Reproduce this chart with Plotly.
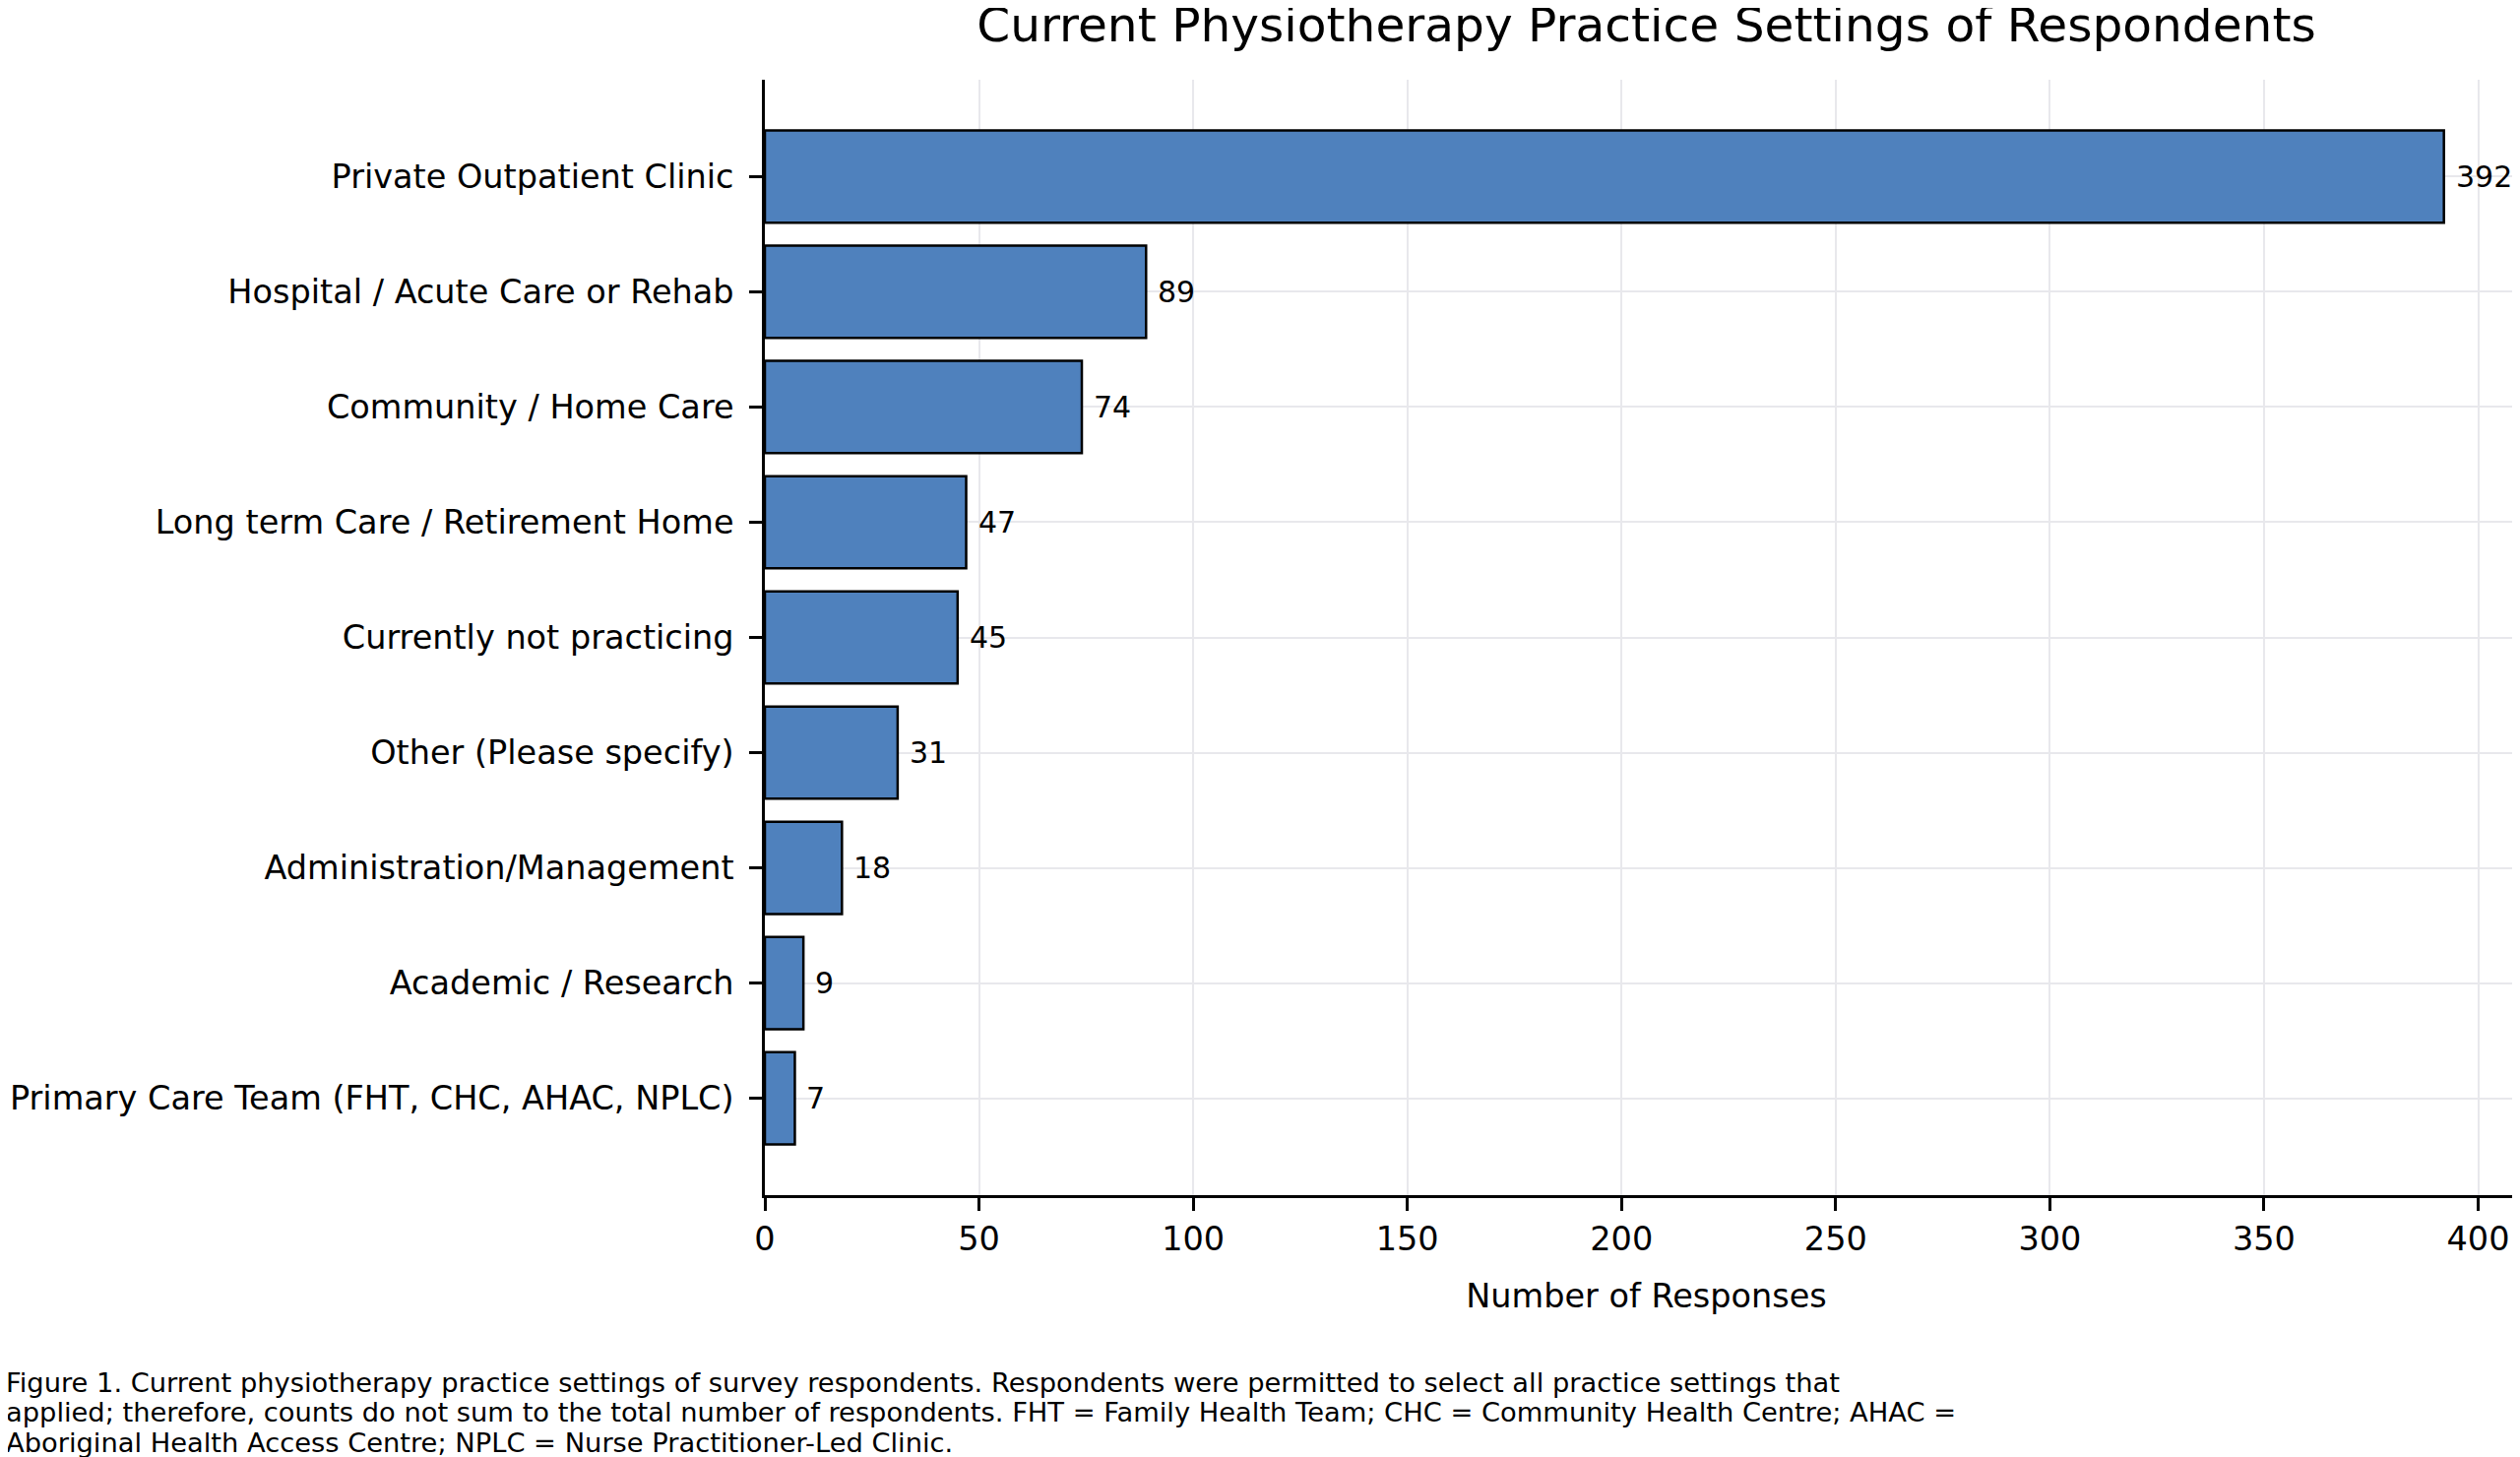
import plotly.graph_objects as go

categories = [
    "Private Outpatient Clinic",
    "Hospital / Acute Care or Rehab",
    "Community / Home Care",
    "Long term Care / Retirement Home",
    "Currently not practicing",
    "Other (Please specify)",
    "Administration/Management",
    "Academic / Research",
    "Primary Care Team (FHT, CHC, AHAC, NPLC)",
]
counts = [392, 89, 74, 47, 45, 31, 18, 9, 7]
x_ticks = [0, 50, 100, 150, 200, 250, 300, 350, 400]

title_text = "Current Physiotherapy Practice Settings of Respondents"
x_title = "Number of Responses"
caption_lines = [
    "Figure 1. Current physiotherapy practice settings of survey respondents. Respondents were permitted to select all practice settings that",
    "applied; therefore, counts do not sum to the total number of respondents. FHT = Family Health Team; CHC = Community Health Centre; AHAC =",
    "Aboriginal Health Access Centre; NPLC = Nurse Practitioner-Led Clinic.",
]

W, H = 2560, 1480
ML, MR, MT, MB = 769, 0, 73, 274
FONT = "DejaVu Sans"

fig = go.Figure()
fig.add_trace(go.Bar(
    x=counts, y=categories, orientation="h", width=0.8,
    marker=dict(color="#4f81bd", line=dict(color="black", width=2.5)),
    showlegend=False,
))

for c, v in zip(categories, counts):
    fig.add_annotation(x=v, y=c, xref="x", yref="y", text=str(v), showarrow=False,
                       xanchor="left", yanchor="middle", xshift=10,
                       font=dict(family=FONT, size=30, color="black"))

pw = W - ML - MR
ph = H - MT - MB
for i, line in enumerate(caption_lines):
    yc = 1396 + i * 30.5
    fig.add_annotation(xref="paper", yref="paper", x=-ML / pw, y=(H - MB - yc) / ph,
                       xanchor="left", yanchor="middle", align="left", showarrow=False,
                       xshift=-4, text=line, font=dict(family=FONT, size=27.3, color="black"))

fig.update_layout(
    width=W, height=H,
    margin=dict(l=ML, r=MR, t=MT, b=MB, pad=0),
    paper_bgcolor="white", plot_bgcolor="white",
    font=dict(family=FONT, color="black"),
    title=dict(text=title_text, x=(ML + pw / 2) / W, xref="container", xanchor="center",
               y=1 - 17 / H, yref="container", yanchor="middle",
               font=dict(family=FONT, size=48.6, color="black")),
    bargap=0.2,
)
fig.update_xaxes(
    range=[0, 411.6], tickvals=x_ticks, ticktext=[str(t) for t in x_ticks],
    showline=True, linecolor="black", linewidth=2.5,
    ticks="outside", ticklen=13, tickwidth=2.5, tickcolor="black",
    tickfont=dict(family=FONT, size=33.5, color="black"),
    showgrid=True, gridcolor="#e8e8ec", gridwidth=2, zeroline=False,
    ticklabelstandoff=0,
    title=dict(text=x_title, font=dict(family=FONT, size=33.5, color="black"), standoff=28),
)
fig.update_yaxes(
    range=[8.84, -0.84], type="category",
    showline=True, linecolor="black", linewidth=2.5,
    ticks="outside", ticklen=13, tickwidth=2.5, tickcolor="black",
    tickfont=dict(family=FONT, size=33.5, color="black"),
    showgrid=True, gridcolor="#e8e8ec", gridwidth=2, zeroline=False,
    ticklabelstandoff=9,
)

fig.write_html("out.html")
